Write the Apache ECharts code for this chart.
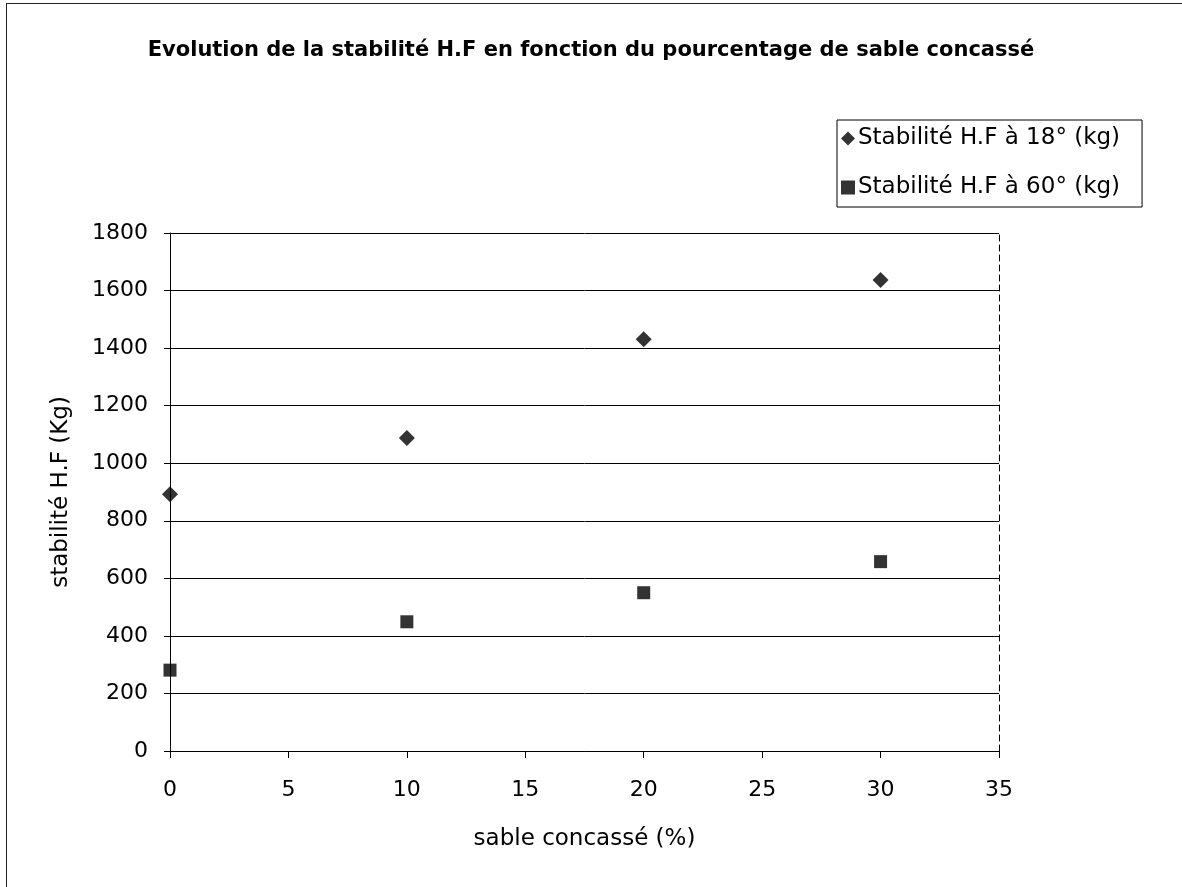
<!DOCTYPE html>
<html>
<head>
<meta charset="utf-8">
<script src="https://cdn.jsdelivr.net/npm/echarts@6/dist/echarts.min.js"></script>
<style>
html,body{margin:0;padding:0;background:#fff;}
#frame{position:absolute;left:6px;top:3px;width:1176px;height:884px;border-left:1px solid #222;border-top:1px solid #222;box-sizing:border-box;}
#chart{position:absolute;left:0;top:0;width:1182px;height:887px;}
</style>
</head>
<body>
<div id="frame"></div>
<div id="chart"></div>
<script>
var titleText = 'Evolution de la stabilité H.F en fonction du pourcentage de sable concassé';
var xName = 'sable concassé (%)';
var yName = 'stabilité H.F (Kg)';
var seriesNames = ['Stabilité H.F à 18° (kg)', 'Stabilité H.F à 60° (kg)'];
var sablePct = [0, 10, 20, 30];
var stab18 = [892, 1088, 1431, 1637];
var stab60 = [281, 449, 550, 658];

var font = '"DejaVu Sans", "Liberation Sans", Arial, sans-serif';
var chart = echarts.init(document.getElementById('chart'), null, {renderer: 'canvas'});
chart.setOption({
  animation: false,
  backgroundColor: 'transparent',
  title: {
    text: titleText,
    left: 'center',
    top: 35,
    textStyle: {fontFamily: font, fontSize: 21, fontWeight: 'bold', color: '#000'}
  },
  legend: {
    orient: 'vertical',
    left: 837,
    top: 120,
    padding: [7, 22, 8, 4],
    itemGap: 26,
    itemWidth: 14,
    itemHeight: 14,
    borderColor: '#000',
    borderWidth: 1,
    textStyle: {fontFamily: font, fontSize: 23, color: '#000', padding: [0, 0, 0, -2]},
    data: [
      {name: seriesNames[0], icon: 'diamond'},
      {name: seriesNames[1], icon: 'rect'}
    ]
  },
  grid: {left: 170, right: 183, top: 233, bottom: 136, containLabel: false},
  xAxis: {
    type: 'value',
    min: 0, max: 35, interval: 5,
    name: xName,
    nameLocation: 'middle',
    nameGap: 77,
    nameTextStyle: {fontFamily: font, fontSize: 23, color: '#000'},
    axisLine: {show: true, lineStyle: {color: '#000', width: 1}},
    axisTick: {show: true, inside: false, length: 7, lineStyle: {color: '#000'}},
    axisLabel: {fontFamily: font, fontSize: 22, color: '#000', margin: 28},
    splitLine: {show: false}
  },
  yAxis: [{
    type: 'value',
    min: 0, max: 1800, interval: 200,
    name: yName,
    nameLocation: 'middle',
    nameGap: 97,
    nameTextStyle: {fontFamily: font, fontSize: 23, color: '#000'},
    axisLine: {show: true, lineStyle: {color: '#000', width: 1}},
    axisTick: {show: true, inside: false, length: 6, lineStyle: {color: '#000'}},
    axisLabel: {fontFamily: font, fontSize: 22, color: '#000', margin: 22,
      formatter: function (v) { return String(v); }},
    splitLine: {show: true, lineStyle: {color: '#000', width: 1}}
  }, {
    type: 'value',
    position: 'right',
    min: 0, max: 1800, interval: 200,
    axisLine: {show: true, lineStyle: {color: '#000', width: 1, type: [6, 4]}},
    axisTick: {show: false},
    axisLabel: {show: false},
    splitLine: {show: false}
  }],
  series: [{
    name: seriesNames[0],
    type: 'scatter',
    symbol: 'diamond',
    symbolSize: 16,
    itemStyle: {color: '#000'},
    data: sablePct.map(function (x, i) { return [x, stab18[i]]; })
  }, {
    name: seriesNames[1],
    type: 'scatter',
    symbol: 'rect',
    symbolSize: 13,
    itemStyle: {color: '#000'},
    data: sablePct.map(function (x, i) { return [x, stab60[i]]; })
  }]
});
</script>
</body>
</html>
